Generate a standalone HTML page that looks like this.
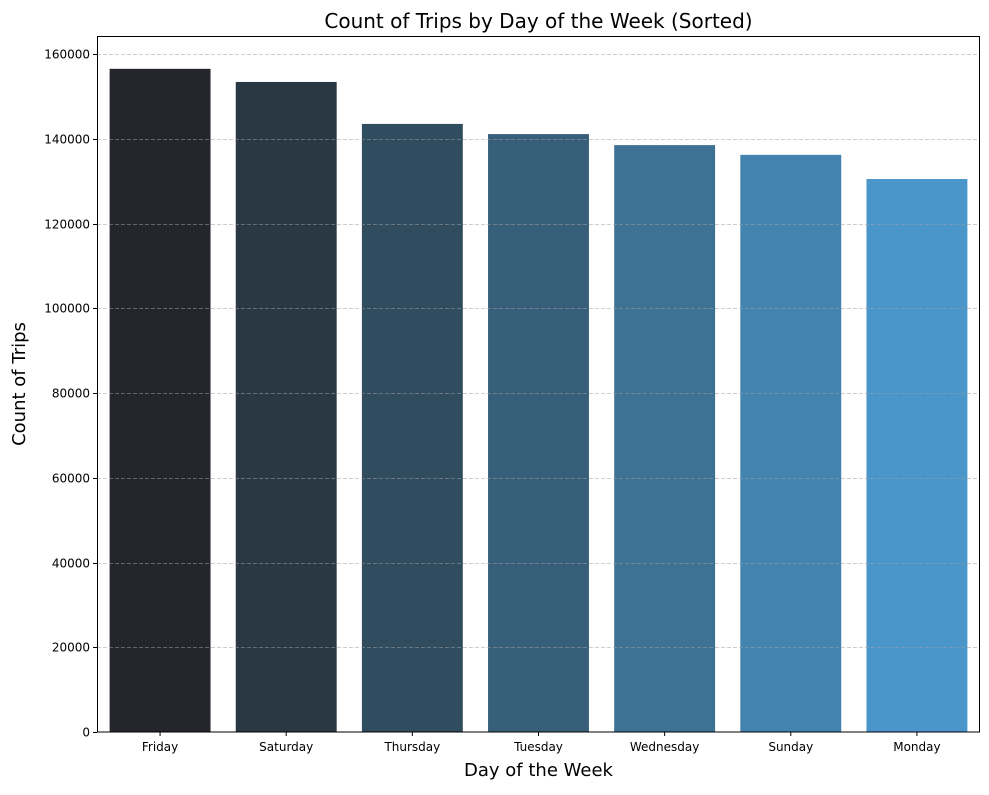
<!DOCTYPE html>
<html><head><meta charset="utf-8">
<style>
body{margin:0;background:#fff;}
svg text{font-family:"DejaVu Sans","Liberation Sans",sans-serif;fill:#000;}
</style></head>
<body>
<svg id="chart" width="989" height="790" xmlns="http://www.w3.org/2000/svg">
<text x="538.5" y="28" font-size="20" text-anchor="middle">Count of Trips by Day of the Week (Sorted)</text>
<g id="bars"></g>
<g id="grid"></g>
<rect x="97.5" y="36.5" width="882" height="695.5" fill="none" stroke="#000" stroke-width="1"/>
<g id="xticks"></g>
<g id="yticks"></g>
<text x="538.5" y="776" font-size="18" text-anchor="middle">Day of the Week</text>
<text x="0" y="0" font-size="18" text-anchor="middle" transform="translate(25,384) rotate(-90)">Count of Trips</text>
</svg>
<script>
const categories = ["Friday","Saturday","Thursday","Tuesday","Wednesday","Sunday","Monday"];
const values = [156500,153400,143500,141100,138500,136200,130500];
const yTicks = [0,20000,40000,60000,80000,100000,120000,140000,160000];
const colors = ["#25262b","#2a3844","#304c5f","#375f7a","#3e7294","#4283b0","#4a96cb"];
const NS="http://www.w3.org/2000/svg";
const L=97,R=980,B=732,T54=54;
function y(v){return B-(v/160000)*(B-T54);}
const band=(R-L)/categories.length;
function x(i){return L+band*i;}
const grid=document.getElementById('grid'),bars=document.getElementById('bars'),xt=document.getElementById('xticks'),yt=document.getElementById('yticks');
yTicks.forEach(t=>{
  const yy=Math.round(y(t))+0.5;
  if(t>0){
    const g=document.createElementNS(NS,'line');
    
    
    g.setAttribute('x1',L);g.setAttribute('x2',R);g.setAttribute('y1',yy);g.setAttribute('y2',yy);
    g.setAttribute('stroke','rgba(160,160,160,0.7)');g.setAttribute('stroke-dasharray','4,2');g.setAttribute('stroke-width','0.8');
    grid.appendChild(g);
  }
  const tk=document.createElementNS(NS,'line');
  
  
  tk.setAttribute('x1',L-4);tk.setAttribute('x2',L);tk.setAttribute('y1',yy);tk.setAttribute('y2',yy);tk.setAttribute('stroke','#000');
  yt.appendChild(tk);
  const tx=document.createElementNS(NS,'text');
  
  
  tx.setAttribute('x',L-7);tx.setAttribute('y',yy+4);tx.setAttribute('font-size','12');tx.setAttribute('text-anchor','end');
  tx.textContent=t;yt.appendChild(tx);
});
categories.forEach((c,i)=>{
  const w=band*0.8,bx=x(i)+band*0.1;
  const r=document.createElementNS(NS,'rect');
  
  
  r.setAttribute('x',bx);r.setAttribute('width',w);r.setAttribute('y',y(values[i]));r.setAttribute('height',B-y(values[i]));
  r.setAttribute('fill',colors[i]);bars.appendChild(r);
  const cx=x(i)+band/2;
  const tk=document.createElementNS(NS,'line');
  
  
  tk.setAttribute('x1',cx);tk.setAttribute('x2',cx);tk.setAttribute('y1',B);tk.setAttribute('y2',B+4);tk.setAttribute('stroke','#000');
  xt.appendChild(tk);
  const tx=document.createElementNS(NS,'text');
  
  
  tx.setAttribute('x',cx);tx.setAttribute('y',B+19);tx.setAttribute('font-size','12');tx.setAttribute('text-anchor','middle');
  tx.textContent=c;xt.appendChild(tx);
});
</script>
</body></html>
